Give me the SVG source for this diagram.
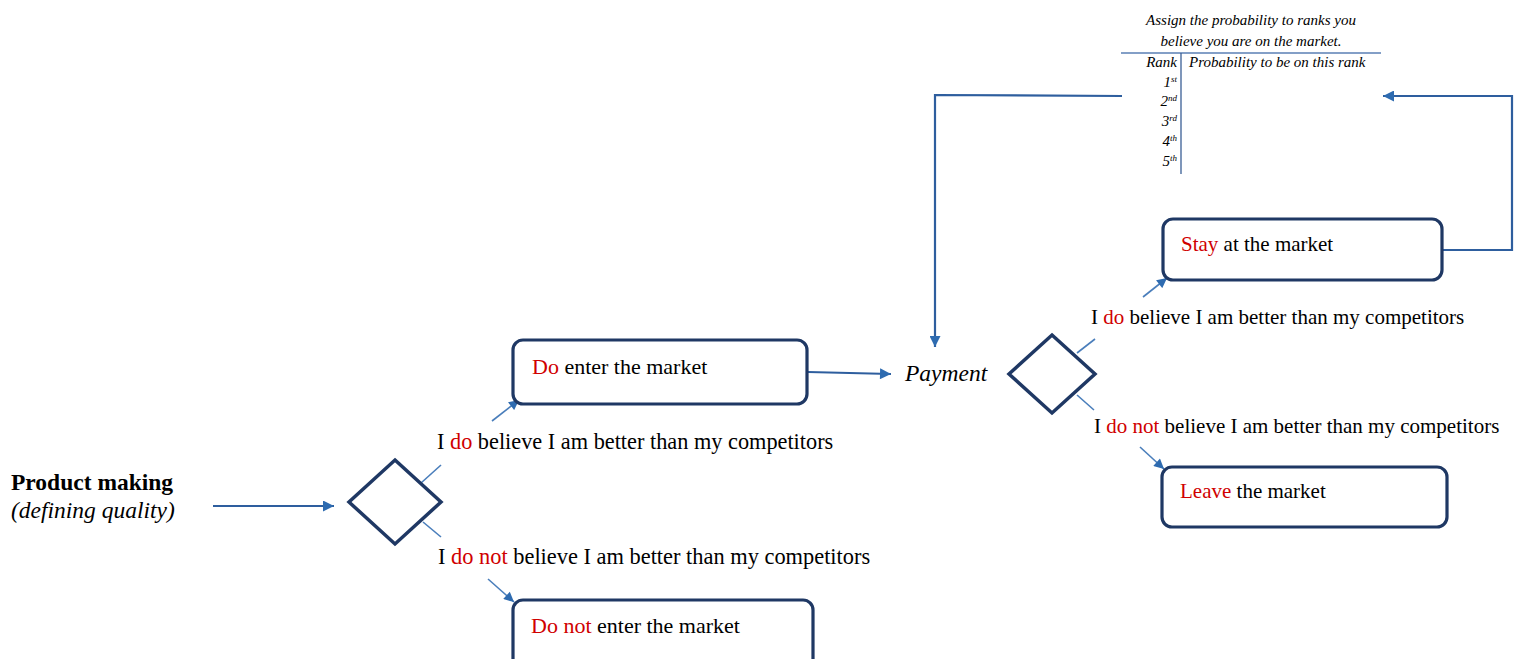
<svg xmlns="http://www.w3.org/2000/svg" width="1522" height="659" viewBox="0 0 1522 659">
<defs>
<style>
.box{fill:#fff;stroke:#1F3864;stroke-width:3.2}
.dia{fill:#fff;stroke:#1F3864;stroke-width:3.5}
.main{fill:none;stroke:#2E5E9E;stroke-width:2.2}
.thin{fill:none;stroke:#4A7EBB;stroke-width:1.6}
.t{font-family:"Liberation Serif","Times New Roman",serif;fill:#000}
.r{fill:#D00000}
.tbl{font-family:"Liberation Serif","Times New Roman",serif;font-style:italic;font-size:15px;fill:#000}
</style>
<marker id="ah" viewBox="0 0 10 10" refX="10" refY="5" markerWidth="13" markerHeight="11" markerUnits="userSpaceOnUse" orient="auto"><path d="M0,0 L10,5 L0,10 Z" fill="#2E6BB0"/></marker>
<marker id="ahs" viewBox="0 0 10 10" refX="10" refY="5" markerWidth="11" markerHeight="10" markerUnits="userSpaceOnUse" orient="auto"><path d="M0,0 L10,5 L0,10 Z" fill="#2E6BB0"/></marker>
</defs>

<g id="connectors">
<line class="main" x1="213" y1="506" x2="334" y2="506" marker-end="url(#ah)"/>
<line class="main" x1="808" y1="372" x2="891" y2="374" marker-end="url(#ah)"/>
<polyline class="main" points="1122,96 935,95 935,347" marker-end="url(#ah)"/>
<polyline class="main" points="1442,250 1512,250 1512,96 1383,96" marker-end="url(#ah)"/>
<line class="thin" x1="421" y1="483" x2="441" y2="465"/>
<line class="thin" x1="423" y1="522" x2="441" y2="537"/>
<line class="thin" x1="492" y1="421" x2="519" y2="400" marker-end="url(#ahs)"/>
<line class="thin" x1="488" y1="579" x2="514" y2="602" marker-end="url(#ahs)"/>
<line class="thin" x1="1077" y1="353" x2="1095" y2="339"/>
<line class="thin" x1="1077" y1="395" x2="1094" y2="410"/>
<line class="thin" x1="1143" y1="297" x2="1167" y2="278" marker-end="url(#ahs)"/>
<line class="thin" x1="1140" y1="447" x2="1164" y2="469" marker-end="url(#ahs)"/>
</g>

<g id="product">
<text class="t" x="11" y="490" font-size="23.5" font-weight="bold">Product making</text>
<text class="t" x="11" y="518" font-size="23.5" font-style="italic">(defining quality)</text>
</g>

<g id="decision1">
<polygon class="dia" points="395,460 441,502 395,544 349,502"/>
</g>

<g id="label-do1"><text class="t" x="437" y="449" font-size="22.3">I <tspan class="r">do</tspan> believe I am better than my competitors</text></g>
<g id="label-donot1"><text class="t" x="438" y="564" font-size="22.4">I <tspan class="r">do not</tspan> believe I am better than my competitors</text></g>

<g id="enter">
<rect class="box" x="513" y="340" width="294" height="64" rx="10"/>
<text class="t" x="532" y="374" font-size="22"><tspan class="r">Do</tspan> enter the market</text>
</g>

<g id="notenter">
<rect class="box" x="513" y="600" width="300" height="80" rx="10"/>
<text class="t" x="531" y="633" font-size="22"><tspan class="r">Do not</tspan> enter the market</text>
</g>

<g id="payment">
<text class="t" x="905" y="381" font-size="23.5" font-style="italic">Payment</text>
</g>

<g id="decision2">
<polygon class="dia" points="1052,335 1095,374 1052,413 1009,374"/>
</g>

<g id="label-do2"><text class="t" x="1091" y="324" font-size="21">I <tspan class="r">do</tspan> believe I am better than my competitors</text></g>
<g id="label-donot2"><text class="t" x="1094" y="433" font-size="21">I <tspan class="r">do not</tspan> believe I am better than my competitors</text></g>

<g id="stay">
<rect class="box" x="1163" y="219" width="279" height="61" rx="10"/>
<text class="t" x="1181" y="251" font-size="21"><tspan class="r">Stay</tspan> at the market</text>
</g>

<g id="leave">
<rect class="box" x="1162" y="467" width="285" height="60" rx="10"/>
<text class="t" x="1180" y="498" font-size="21"><tspan class="r">Leave</tspan> the market</text>
</g>

<g id="rank-table">
<text class="tbl" x="1251" y="25" text-anchor="middle">Assign the probability to ranks you</text>
<text class="tbl" x="1251" y="46" text-anchor="middle">believe you are on the market.</text>
<line x1="1121" y1="53" x2="1381" y2="53" stroke="#5A7FB5" stroke-width="1.3"/>
<line x1="1181" y1="53" x2="1181" y2="174" stroke="#3A5F95" stroke-width="1.3"/>
<text class="tbl" x="1177" y="67" text-anchor="end">Rank</text>
<text class="tbl" x="1189" y="67" font-size="15.4">Probability to be on this rank</text>
<text class="tbl" x="1177" y="87" text-anchor="end">1<tspan font-size="9" dy="-5">st</tspan></text>
<text class="tbl" x="1177" y="106" text-anchor="end">2<tspan font-size="9" dy="-5">nd</tspan></text>
<text class="tbl" x="1177" y="126" text-anchor="end">3<tspan font-size="9" dy="-5">rd</tspan></text>
<text class="tbl" x="1177" y="146" text-anchor="end">4<tspan font-size="9" dy="-5">th</tspan></text>
<text class="tbl" x="1177" y="166" text-anchor="end">5<tspan font-size="9" dy="-5">th</tspan></text>
</g>
</svg>
